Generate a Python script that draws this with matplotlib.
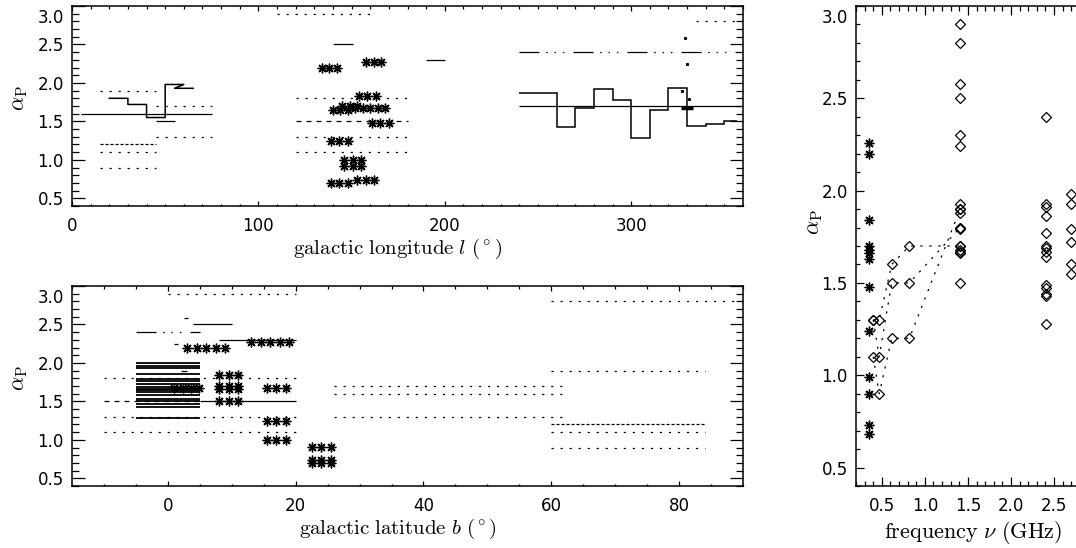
import matplotlib.pyplot as plt
from matplotlib.ticker import MultipleLocator, FixedLocator
from matplotlib.transforms import ScaledTranslation

plt.rcParams['font.family'] = ['DejaVu Sans']
plt.rcParams['mathtext.fontset'] = 'cm'
plt.rcParams['lines.scale_dashes'] = False

# ---------------- alpha_P vs galactic longitude ----------------
# horizontal ranges: (l_start, l_end, alpha)
lon_dotted = [(110, 160, 2.9), (15, 45, 1.9), (45, 75, 1.7), (45, 75, 1.3),
              (15, 45, 1.1), (15, 45, 0.9), (120, 180, 1.8), (120, 180, 1.3),
              (120, 180, 1.1), (335, 357, 2.8)]
lon_dotted_dense = [(15, 45, 1.2)]
lon_dashed = [(120, 180, 1.5)]
lon_solid = [(5, 75, 1.6), (45, 55, 1.5), (140, 151, 2.5), (190, 200, 2.3),
             (240, 360, 1.7)]
lon_dash3dot = [(240, 357, 2.4)]
lon_thick = [(327, 333, 1.68)]

# profiles along l
prof1_l = [20, 30, 30, 40, 40, 50, 50, 60, 55, 65]
prof1_a = [1.80, 1.80, 1.72, 1.72, 1.55, 1.55, 1.98, 1.98, 1.93, 1.93]
prof2_edges = [240, 250, 260, 270, 280, 290, 300, 310, 320, 330, 340, 350, 357]
prof2_vals = [1.87, 1.87, 1.43, 1.68, 1.92, 1.78, 1.29, 1.65, 1.93, 1.44, 1.47, 1.50]

# single points near l=329
lon_pts_l = [329, 330, 327.5, 331]
lon_pts_a = [2.58, 2.25, 1.89, 1.79]

# asterisk groups: (l positions, alpha)
lon_stars = [([134, 138, 142], 2.20), ([158, 162, 166], 2.27),
             ([154, 158.5, 163], 1.83), ([140, 144, 148], 1.65),
             ([145, 149, 153], 1.70), ([152, 156, 160, 164, 168], 1.67),
             ([161, 165.5, 170], 1.48), ([139, 143.5, 148], 1.25),
             ([146, 150.5, 155], 1.00), ([146, 150.5, 155], 0.92),
             ([139, 143.5, 148], 0.70), ([153, 157.5, 162], 0.74)]

# ---------------- alpha_P vs galactic latitude ----------------
lat_dotted = [(0, 20, 2.9), (-10, 20, 1.8), (-10, 20, 1.3), (-10, 20, 1.1),
              (26, 62, 1.7), (26, 62, 1.6), (26, 62, 1.3), (60, 90, 2.8),
              (60, 84, 1.9), (60, 84, 1.1), (60, 84, 0.9)]
lat_dotted_dense = [(60, 84, 1.2)]
lat_dashed = [(-10, 5, 1.5)]
lat_solid = [(2.5, 3.2, 2.59), (4, 10, 2.5), (8, 20, 2.3), (1, 1.6, 2.25),
             (5, 20, 1.5), (2, 3, 1.89)]
lat_dash3dot = [(-5, 5, 2.4)]
# regions spanning b = -5..5
band_b = (-5, 5)
band_alpha = [2.00, 1.96, 1.93, 1.86, 1.79, 1.76, 1.72, 1.69, 1.665, 1.65,
              1.62, 1.58, 1.53, 1.50, 1.47, 1.43, 1.29]

lat_stars = [([3, 4.5, 6, 7.5, 9], 2.20), ([13, 14.5, 16, 17.5, 19], 2.27),
             ([8, 9.5, 11], 1.84), ([8, 9.5, 11], 1.70), ([8, 9.5, 11], 1.66),
             ([8, 9.5, 11], 1.50), ([1, 2.3, 3.6, 4.8], 1.67),
             ([15.5, 17, 18.5], 1.67), ([15.5, 17, 18.5], 1.24),
             ([15.5, 17, 18.5], 1.00), ([22.5, 24, 25.5], 0.91),
             ([22.5, 24, 25.5], 0.74), ([22.5, 24, 25.5], 0.70)]

# ---------------- alpha_P vs frequency ----------------
nu_ast = 0.35
alpha_ast = [2.26, 2.20, 1.84, 1.70, 1.68, 1.66, 1.63, 1.48, 1.24, 0.99, 0.90,
             0.73, 0.68]
nu_14 = 1.41
alpha_14 = [2.90, 2.80, 2.58, 2.50, 2.30, 2.24, 1.93, 1.90, 1.88, 1.80, 1.79,
            1.70, 1.68, 1.67, 1.66, 1.50]
nu_24 = 2.41
alpha_24 = [2.40, 1.93, 1.91, 1.86, 1.77, 1.70, 1.69, 1.67, 1.64, 1.49, 1.47,
            1.44, 1.43, 1.28]
nu_27 = 2.70
alpha_27 = [1.98, 1.93, 1.79, 1.72, 1.60, 1.55]
# spectra of three regions
track_nu = [0.40, 0.47, 0.615, 0.82, 1.41]
track_alpha = [[1.30, 1.30, 1.60, 1.70, 1.70],
               [1.30, 1.10, 1.50, 1.50, 1.80],
               [1.10, 0.90, 1.20, 1.20, 1.90]]

DOT = (0, (1.6, 4.9))
DOT_DENSE = (0, (2.2, 1.4))
DASH = (0, (3.6, 3.6))
DASH3DOT = (0, (14.4, 4.8, 1.1, 4.9, 1.1, 4.9, 1.1, 6.6))
STAR = dict(ls='none', marker=(8, 2, 0), ms=7, mew=1.0, color='k')
DIAM = dict(ls='none', marker='D', ms=5.2, mfc='none', mec='k', mew=0.9)

W, H = 1076, 548
fig = plt.figure(figsize=(W / 100, H / 100), dpi=100)


def px_axes(x0, y0, x1, y1):
    return fig.add_axes([x0 / W, 1 - y1 / H, (x1 - x0) / W, (y1 - y0) / H])


def hsegs(ax, segs, ls, lw=0.9):
    for x0, x1, a in segs:
        ax.plot([x0, x1], [a, a], color='k', ls=ls, lw=lw,
                solid_capstyle='butt', dash_capstyle='butt')


def stars(ax, groups):
    for xs, a in groups:
        ax.plot(xs, [a] * len(xs), **STAR)


def style(ax, xmaj, xmin, ylen, xlen, xpad=8):
    ax.xaxis.set_major_locator(xmaj)
    ax.xaxis.set_minor_locator(MultipleLocator(xmin))
    ax.yaxis.set_major_locator(MultipleLocator(0.5))
    ax.yaxis.set_minor_locator(MultipleLocator(0.1))
    ax.set_ylim(0.4, 3.0)
    ax.yaxis.set_major_formatter('{x:.1f}')
    ax.tick_params(which='both', direction='in', top=True, right=True,
                   width=0.9, labelsize=12, colors='k')
    ax.tick_params(axis='y', which='major', length=ylen, pad=6)
    ax.tick_params(axis='y', which='minor', length=ylen / 2)
    ax.tick_params(axis='x', which='major', length=xlen, pad=xpad)
    ax.tick_params(axis='x', which='minor', length=xlen / 2)
    for s in ax.spines.values():
        s.set_linewidth(1.1)
    # keep the top label inside the figure
    shift = ScaledTranslation(0, -2 / 72, fig.dpi_scale_trans)
    for t, loc in zip(ax.yaxis.get_major_ticks(), ax.yaxis.get_majorticklocs()):
        if abs(loc - 3.0) < 1e-6:
            t.label1.set_va('top')
            t.label1.set_transform(t.label1.get_transform() + shift)


def ylabel(ax, xfrac, yfrac):
    ax.set_ylabel(r'$\alpha_{\rm P}$', fontsize=16)
    ax.yaxis.set_label_coords(xfrac, yfrac)
    ax.yaxis.label.set_va('center')


def xlabel(ax, text, xpix, ypix, x0, y1, width, height, size=15):
    ax.set_xlabel(text, fontsize=size)
    ax.xaxis.set_label_coords((xpix - x0) / width, (y1 - ypix) / height)
    ax.xaxis.label.set_va('center')


# longitude panel
ax1 = px_axes(72, 6, 743, 206)
hsegs(ax1, lon_dotted, DOT)
hsegs(ax1, lon_dotted_dense, DOT_DENSE)
hsegs(ax1, lon_dashed, DASH)
hsegs(ax1, lon_solid, '-')
hsegs(ax1, lon_dash3dot, DASH3DOT)
hsegs(ax1, lon_thick, '-', lw=2.5)
ax1.plot(prof1_l, prof1_a, color='k', lw=1.1)
ax1.stairs(prof2_vals, prof2_edges, color='k', lw=1.1, baseline=None)
ax1.plot(lon_pts_l, lon_pts_a, ls='none', marker='s', ms=1.2, color='k')
stars(ax1, lon_stars)
ax1.set_xlim(0, 360)
style(ax1, MultipleLocator(100), 10, 9.4, 3.6)
xlabel(ax1, r'$\mathrm{galactic\ longitude}\ l\ (^\circ)$', 398, 249,
       72, 206, 671, 200)
ylabel(ax1, -0.078, 0.54)

# latitude panel
ax2 = px_axes(72, 286, 743, 486)
hsegs(ax2, lat_dotted, DOT)
hsegs(ax2, lat_dotted_dense, DOT_DENSE)
hsegs(ax2, lat_dashed, DASH)
hsegs(ax2, lat_solid, '-')
hsegs(ax2, lat_dash3dot, DASH3DOT)
for a in band_alpha:
    ax2.plot(band_b, [a, a], color='k', lw=1.3, solid_capstyle='butt')
stars(ax2, lat_stars)
ax2.set_xlim(-15, 90)
style(ax2, MultipleLocator(20), 5, 9.4, 3.6)
xlabel(ax2, r'$\mathrm{galactic\ latitude}\ b\ (^\circ)$', 398, 529,
       72, 486, 671, 200)
ylabel(ax2, -0.078, 0.54)

# frequency panel
ax3 = px_axes(856, 6, 1097, 486)
for als in track_alpha:
    ax3.plot(track_nu, als, color='k', ls=DOT, lw=0.9)
    ax3.plot(track_nu, als, **DIAM)
for nu, als in [(nu_14, alpha_14), (nu_24, alpha_24), (nu_27, alpha_27)]:
    ax3.plot([nu] * len(als), als, **DIAM)
ax3.plot([nu_ast] * len(alpha_ast), alpha_ast, **STAR)
ax3.set_xlim(0.2, 3.0)
style(ax3, FixedLocator([0.5, 1.0, 1.5, 2.0, 2.5]), 0.1, 6, 6.5, xpad=8)
ax3.xaxis.set_major_formatter('{x:.1f}')
xlabel(ax3, r'$\mathrm{frequency}\ \nu\ (\mathrm{GHz})$', 973, 533,
       856, 486, 241, 480, size=16)
ylabel(ax3, -0.17, 0.55)

fig.savefig('out.png', dpi=100)
